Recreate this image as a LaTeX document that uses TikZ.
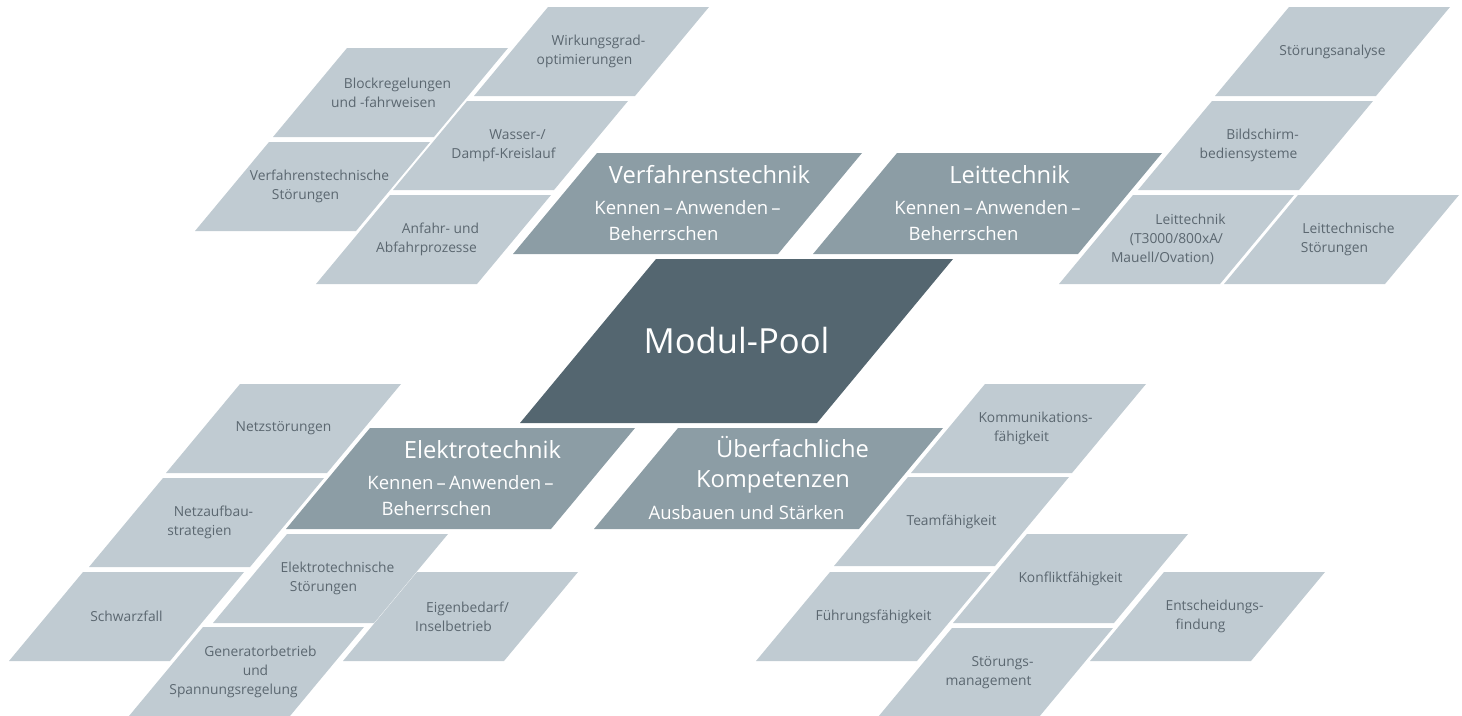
\documentclass[tikz,border=0pt]{standalone}
\usepackage{fontspec}
\setmainfont{Open Sans}
\usetikzlibrary{calc}

\definecolor{tilelight}{HTML}{C0CBD2}
\definecolor{tilemid}{HTML}{8C9DA5}
\definecolor{tiledark}{HTML}{546670}
\definecolor{tiletext}{HTML}{5B6770}

% shift a line sideways inside a centred block
\newcommand{\nudge}[1]{\hspace*{#1pt}}
\newcommand{\hubtitle}{\fontsize{23.7}{31}\selectfont}

\tikzset{
  light tile/.style={fill=tilelight},
  mid tile/.style={fill=tilemid},
  dark tile/.style={fill=tiledark},
  light label/.style={text=tiletext, align=center, inner sep=0pt,
    font=\fontsize{13.8}{19}\selectfont},
  mid label/.style={text=white, align=center, inner sep=0pt,
    font=\fontsize{18.5}{26}\selectfont},
  dark label/.style={text=white, inner sep=0pt,
    font=\fontsize{34.6}{40}\selectfont},
}

\begin{document}
\begin{tikzpicture}[x=1pt, y=-1pt]
    \useasboundingbox (0,0) rectangle (1462,715);

    % Centre tile
    \fill[dark tile] (656,259) -- ++(297,0) -- ++(-136,164) -- ++(-297,0) -- cycle;
    \node[dark label] (pool) at (656+80.5,259+82) {Modul-Pool};

    % Four subject tiles round the centre
    \foreach \id/\x/\y/\txt in {
        vt/597/153/{{\hubtitle\nudge{44}Verfahrenstechnik}\\[5pt]Kennen\,–\,Anwenden\,–\\Beherrschen\nudge{48}},
        lt/897/153/{{\hubtitle\nudge{44}Leittechnik}\\[5pt]Kennen\,–\,Anwenden\,–\\Beherrschen\nudge{48}},
        et/370/428/{{\hubtitle\nudge{44}Elektrotechnik}\\[5pt]Kennen\,–\,Anwenden\,–\\Beherrschen\nudge{48}},
        uk/678/428/{{\hubtitle\nudge{48}Überfachliche}\\[4pt]{\hubtitle\nudge{9}Kompetenzen}\\[6pt]Ausbauen und Stärken\nudge{44}}%
    }{
        \fill[mid tile] (\x,\y) -- ++(265,0) -- ++(-84,101) -- ++(-265,0) -- cycle;
        \node[mid label] (\id) at (\x+90.5,\y+50.5) {\txt};
    }

    % Module tiles
    \foreach \id/\x/\y/\txt in {
        wirkung/548/7/{\nudge{14}Wirkungsgrad-\\optimierungen\nudge{14}},
        block/347/48/{\nudge{14}Blockregelungen\\und -fahrweisen\nudge{14}},
        wasser/467/101/{\nudge{14}Wasser-/\\Dampf-Kreislauf\nudge{14}},
        vtstoer/269/142/{\nudge{14}Verfahrenstechnische\\Störungen\nudge{14}},
        anfahr/390/195/{\nudge{14}Anfahr- und\\Abfahrprozesse\nudge{14}},
        analyse/1289/7/{Störungsanalyse},
        bild/1212/101/{\nudge{14}Bildschirm-\\bediensysteme\nudge{14}},
        ltsys/1133/195/{\nudge{28}Leittechnik\\(T3000/800xA/\\Mauell/Ovation)\nudge{28}},
        ltstoer/1298/195/{\nudge{14}Leittechnische\\Störungen\nudge{14}},
        netz/240/384/{Netzstörungen},
        aufbau/163/478/{\nudge{14}Netzaufbau-\\strategien\nudge{14}},
        schwarz/83/572/{Schwarzfall},
        etstoer/287/534/{\nudge{14}Elektrotechnische\\Störungen\nudge{14}},
        generator/203/627/{\nudge{28}Generatorbetrieb\\\nudge{18}und\\Spannungsregelung\nudge{26}},
        eigen/417/572/{\nudge{14}Eigenbedarf/\\Inselbetrieb\nudge{14}},
        komm/985/384/{\nudge{14}Kommunikations-\\fähigkeit\nudge{14}},
        team/908/477/{Teamfähigkeit},
        fuehrung/830/572/{Führungsfähigkeit},
        konflikt/1027/534/{Konfliktfähigkeit},
        stoermgmt/952/628/{\nudge{14}Störungs-\\management\nudge{14}},
        entscheid/1164/572/{\nudge{14}Entscheidungs-\\findung\nudge{14}}%
    }{
        \fill[light tile] (\x,\y) -- ++(161,0) -- ++(-74,89) -- ++(-161,0) -- cycle;
        \node[light label] (\id) at (\x+43.5,\y+44.5) {\txt};
    }

\end{tikzpicture}
\end{document}
